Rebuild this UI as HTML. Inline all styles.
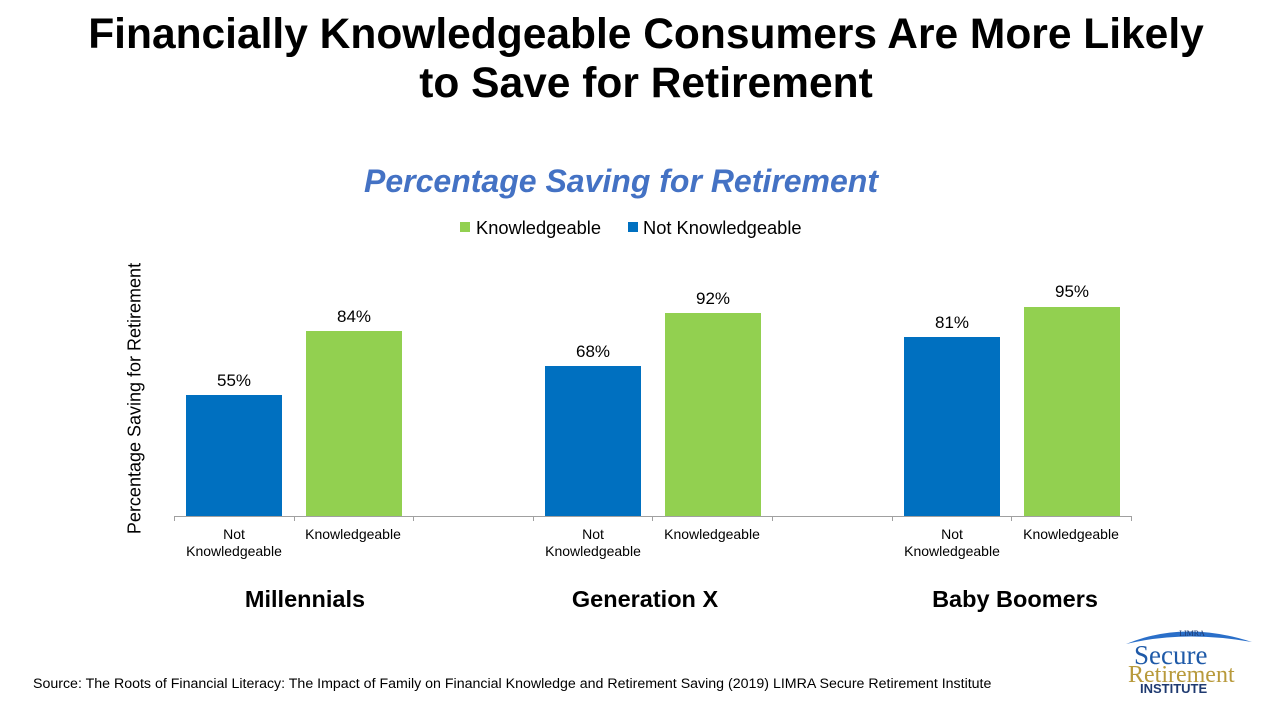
<!DOCTYPE html>
<html><head><meta charset="utf-8"><style>
body{margin:0;width:1280px;height:720px;background:#fff;position:relative;overflow:hidden;font-family:"Liberation Sans",Arial,sans-serif}
div{position:absolute}
.t{left:0;width:1292px;text-align:center;font-weight:bold;font-size:42.5px;line-height:49px;color:#000}
.bar{width:96px}
.b{background:#0070c0}.g{background:#92d050}
.v{font-size:17px;width:96px;text-align:center;color:#000}
.cl{font-size:14px;width:120px;text-align:center;line-height:17px;color:#000}
.grp{font-size:23.5px;font-weight:bold;width:240px;text-align:center}
.tick{width:1px;height:5px;background:#a0a0a0;top:516px}
</style></head><body>
<div class="t" style="top:10px">Financially Knowledgeable Consumers Are More Likely<br>to Save for Retirement</div>
<div style="left:0;width:1242px;top:163px;text-align:center;font-size:32px;font-weight:bold;font-style:italic;color:#4472c4">Percentage Saving for Retirement</div>
<div style="left:460px;top:222px;width:10px;height:10px;background:#92d050"></div>
<div style="left:476px;top:217px;font-size:18.3px">Knowledgeable</div>
<div style="left:628px;top:222px;width:10px;height:10px;background:#0070c0"></div>
<div style="left:643px;top:217px;font-size:18.3px">Not Knowledgeable</div>
<div style="left:-5px;top:388px;width:280px;text-align:center;font-size:18px;white-space:nowrap;transform:rotate(-90deg);transform-origin:center">Percentage Saving for Retirement</div>

<div class="bar b" style="left:186px;top:395px;height:121px"></div>
<div class="bar g" style="left:306px;top:331px;height:185px"></div>
<div class="bar b" style="left:545px;top:366px;height:150px"></div>
<div class="bar g" style="left:665px;top:313px;height:203px"></div>
<div class="bar b" style="left:904px;top:337px;height:179px"></div>
<div class="bar g" style="left:1024px;top:307px;height:209px"></div>

<div class="v" style="left:186px;top:371px">55%</div>
<div class="v" style="left:306px;top:307px">84%</div>
<div class="v" style="left:545px;top:342px">68%</div>
<div class="v" style="left:665px;top:289px">92%</div>
<div class="v" style="left:904px;top:313px">81%</div>
<div class="v" style="left:1024px;top:282px">95%</div>

<div style="left:174px;top:516px;width:958px;height:1px;background:#a0a0a0"></div>
<div class="tick" style="left:174px"></div><div class="tick" style="left:294px"></div><div class="tick" style="left:413px"></div>
<div class="tick" style="left:533px"></div><div class="tick" style="left:652px"></div><div class="tick" style="left:772px"></div>
<div class="tick" style="left:892px"></div><div class="tick" style="left:1011px"></div><div class="tick" style="left:1131px"></div>

<div class="cl" style="left:174px;top:526px">Not<br>Knowledgeable</div>
<div class="cl" style="left:293px;top:526px">Knowledgeable</div>
<div class="cl" style="left:533px;top:526px">Not<br>Knowledgeable</div>
<div class="cl" style="left:652px;top:526px">Knowledgeable</div>
<div class="cl" style="left:892px;top:526px">Not<br>Knowledgeable</div>
<div class="cl" style="left:1011px;top:526px">Knowledgeable</div>

<div class="grp" style="left:185px;top:586px">Millennials</div>
<div class="grp" style="left:525px;top:586px">Generation X</div>
<div class="grp" style="left:895px;top:586px">Baby Boomers</div>

<div style="left:33px;top:676px;font-size:14.2px;white-space:nowrap">Source: The Roots of Financial Literacy: The Impact of Family on Financial Knowledge and Retirement Saving (2019) LIMRA Secure Retirement Institute</div>

<svg style="position:absolute;left:1120px;top:624px" width="140" height="70">
<path d="M6 20 Q64 -4 132 18 Q64 6 6 20Z" fill="#2a6fc9"/>
<text x="72" y="12" font-family="Liberation Serif" font-size="8" fill="#1f3a70" text-anchor="middle">LIMRA</text>
<text x="14" y="40" font-family="Liberation Serif" font-size="27" fill="#1f5aa8">Secure</text>
<text x="8" y="58" font-family="Liberation Serif" font-size="24" fill="#b89a3c">Retirement</text>
<text x="20" y="69" font-family="Liberation Sans" font-weight="bold" font-size="13" fill="#1f3a70">INSTITUTE</text>
</svg>
</body></html>
